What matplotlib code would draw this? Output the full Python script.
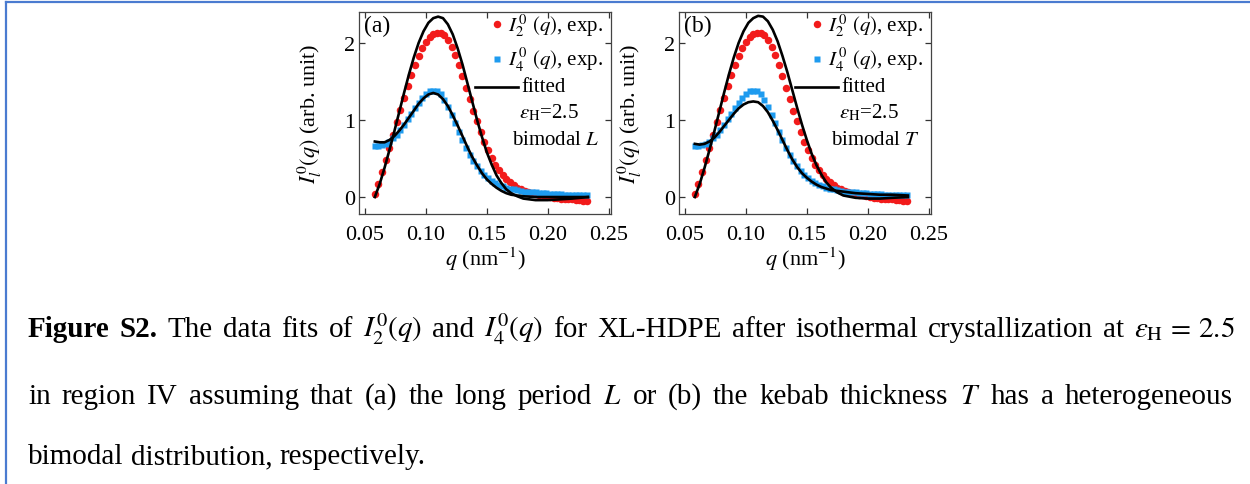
import matplotlib
matplotlib.use("Agg")
import matplotlib.pyplot as plt
from matplotlib.lines import Line2D

plt.rcParams['font.family'] = ['Liberation Serif', 'DejaVu Serif']
plt.rcParams['mathtext.fontset'] = 'stix'

W, H = 1250, 485
DPI = 100

# ---------------- data ----------------
q_exp = [0.058, 0.061, 0.064, 0.067, 0.070, 0.073, 0.076, 0.079, 0.082, 0.085,
         0.088, 0.091, 0.094, 0.097, 0.100, 0.103, 0.106, 0.109, 0.112, 0.115,
         0.118, 0.121, 0.124, 0.127, 0.130, 0.133, 0.136, 0.139, 0.142, 0.145,
         0.148, 0.151, 0.154, 0.157, 0.160, 0.163, 0.166, 0.169, 0.172, 0.175,
         0.178, 0.181, 0.184, 0.187, 0.190, 0.193, 0.196, 0.199, 0.202, 0.205,
         0.208, 0.211, 0.214, 0.217, 0.220, 0.223, 0.226, 0.229, 0.232]
I2_exp = [0.04, 0.17, 0.32, 0.48, 0.64, 0.80, 0.97, 1.13, 1.29, 1.44,
          1.58, 1.71, 1.83, 1.93, 2.01, 2.07, 2.11, 2.13, 2.13, 2.10,
          2.04, 1.95, 1.84, 1.71, 1.57, 1.42, 1.27, 1.12, 0.98, 0.85,
          0.72, 0.61, 0.51, 0.42, 0.35, 0.29, 0.23, 0.19, 0.15, 0.12,
          0.10, 0.08, 0.06, 0.05, 0.04, 0.03, 0.02, 0.01, 0.00, -0.01,
          -0.01, -0.02, -0.02, -0.03, -0.03, -0.04, -0.04, -0.05, -0.05]
I4_exp = [0.66, 0.66, 0.67, 0.69, 0.72, 0.76, 0.81, 0.87, 0.94, 1.01,
          1.08, 1.15, 1.22, 1.28, 1.33, 1.37, 1.38, 1.37, 1.33, 1.26,
          1.17, 1.07, 0.96, 0.85, 0.74, 0.64, 0.55, 0.47, 0.40, 0.34,
          0.29, 0.25, 0.21, 0.18, 0.16, 0.14, 0.12, 0.11, 0.10, 0.09,
          0.08, 0.07, 0.07, 0.06, 0.06, 0.05, 0.05, 0.05, 0.04, 0.04,
          0.04, 0.04, 0.03, 0.03, 0.03, 0.03, 0.03, 0.03, 0.03]

q_fit = [0.058, 0.062, 0.066, 0.070, 0.074, 0.078, 0.082, 0.086, 0.090, 0.094,
         0.098, 0.102, 0.106, 0.110, 0.114, 0.118, 0.122, 0.126, 0.130, 0.134,
         0.138, 0.142, 0.146, 0.150, 0.154, 0.158, 0.162, 0.166, 0.170, 0.175,
         0.180, 0.190, 0.200, 0.210, 0.220, 0.233]
I2_fit_L = [0.00, 0.17, 0.38, 0.61, 0.85, 1.10, 1.35, 1.59, 1.81, 2.00,
            2.15, 2.26, 2.32, 2.34, 2.32, 2.24, 2.11, 1.93, 1.72, 1.48,
            1.24, 1.00, 0.78, 0.58, 0.42, 0.28, 0.18, 0.10, 0.05, 0.01,
            -0.02, -0.04, -0.04, -0.03, -0.02, 0.00]
I4_fit_L = [0.72, 0.71, 0.71, 0.74, 0.79, 0.86, 0.94, 1.03, 1.12, 1.21,
            1.28, 1.33, 1.35, 1.33, 1.27, 1.18, 1.06, 0.93, 0.79, 0.65,
            0.52, 0.41, 0.31, 0.23, 0.17, 0.12, 0.08, 0.05, 0.03, 0.02,
            0.01, 0.00, 0.00, 0.00, 0.00, 0.00]
I2_fit_T = [0.00, 0.17, 0.38, 0.61, 0.85, 1.10, 1.35, 1.59, 1.81, 2.00,
            2.15, 2.26, 2.32, 2.35, 2.34, 2.28, 2.17, 2.02, 1.83, 1.62,
            1.39, 1.16, 0.94, 0.74, 0.56, 0.41, 0.29, 0.19, 0.12, 0.06,
            0.02, -0.01, -0.02, -0.02, -0.01, 0.00]
I4_fit_T = [0.69, 0.68, 0.69, 0.72, 0.77, 0.84, 0.92, 1.00, 1.08, 1.15,
            1.20, 1.23, 1.24, 1.23, 1.18, 1.10, 0.99, 0.87, 0.74, 0.61,
            0.49, 0.39, 0.31, 0.25, 0.20, 0.16, 0.13, 0.11, 0.09, 0.08,
            0.07, 0.05, 0.04, 0.03, 0.03, 0.02]

x_ticks = [0.05, 0.10, 0.15, 0.20, 0.25]
x_ticklabels = ["0.05", "0.10", "0.15", "0.20", "0.25"]
y_ticks = [0, 1, 2]
panel_tags = ["(a)", "(b)"]
panel_models = ["L", "T"]
fits_I2 = [I2_fit_L, I2_fit_T]
fits_I4 = [I4_fit_L, I4_fit_T]

RED = '#F21B1B'
BLUE = '#1E9BEF'

fig = plt.figure(figsize=(W / DPI, H / DPI), dpi=DPI)

def fx(px):
    return px / W

def fy(py):
    return 1 - py / H

ax_lefts = [359, 679]
ax_top, ax_bot, ax_w = 13, 215, 252

for i in range(2):
    ax = fig.add_axes([fx(ax_lefts[i]), fy(ax_bot), ax_w / W, (ax_bot - ax_top) / H])
    ax.plot(q_exp, I2_exp, 'o', color=RED, ms=5.4, mec='none', zorder=2)
    ax.plot(q_exp, I4_exp, 's', color=BLUE, ms=4.8, mec='none', zorder=2)
    ax.plot(q_fit, fits_I2[i], '-', color='black', lw=1.9, zorder=3)
    ax.plot(q_fit, fits_I4[i], '-', color='black', lw=1.9, zorder=3)
    ax.set_xlim(0.045, 0.252)
    ax.set_ylim(-0.22, 2.40)
    ax.set_xticks(x_ticks)
    ax.set_xticklabels(x_ticklabels)
    ax.set_yticks(y_ticks)
    ax.tick_params(direction='in', top=True, right=True, length=4, width=0.9,
                   labelsize=16, color='#333333')
    ax.tick_params(axis='x', pad=8)
    ax.tick_params(axis='y', pad=3)
    for s in ax.spines.values():
        s.set_color('#444444')
        s.set_linewidth(0.9)
    ax.set_xlabel(r'$q$ (nm$^{-1}$)', fontsize=16, labelpad=0)
    ax.set_ylabel(r'$I_l^0(q)$ (arb. unit)', fontsize=16, labelpad=14)
    ax.text(0.02, 0.935, panel_tags[i], transform=ax.transAxes, fontsize=17,
            va='center', ha='left')
    # legend-like annotations
    ax.plot([0.548], [0.94], 'o', color=RED, ms=5.4, mec='none', transform=ax.transAxes, clip_on=False)
    ax.text(0.59, 0.94, r'$I_2^{\,0}\ (q)$, exp.', transform=ax.transAxes, fontsize=15,
            va='center', ha='left')
    ax.plot([0.548], [0.767], 's', color=BLUE, ms=4.8, mec='none', transform=ax.transAxes, clip_on=False)
    ax.text(0.59, 0.767, r'$I_4^{\,0}\ (q)$, exp.', transform=ax.transAxes, fontsize=15,
            va='center', ha='left')
    ax.plot([0.46, 0.632], [0.629, 0.629], '-', color='black', lw=1.9, transform=ax.transAxes)
    ax.text(0.645, 0.629, 'fitted', transform=ax.transAxes, fontsize=15, va='center', ha='left')
    ax.text(0.755, 0.505, r'$\varepsilon_{\rm H}$=2.5', transform=ax.transAxes, fontsize=15,
            va='center', ha='center')
    ax.text(0.78, 0.371, r'bimodal $%s$' % panel_models[i], transform=ax.transAxes,
            fontsize=15, va='center', ha='center')

# border lines
fig.add_artist(Line2D([fx(6), 1], [fy(2.5), fy(2.5)], color='#4A7BD0', lw=1.6))
fig.add_artist(Line2D([fx(6), fx(6)], [fy(2.5), 0], color='#4A7BD0', lw=1.6))

# caption with justified lines
CAP_FS = 21
renderer = fig.canvas.get_renderer()

def place_line(tokens, y_base, x0, x1, justify):
    items = []
    for s, bold in tokens:
        t = fig.text(0, fy(y_base), s, fontsize=CAP_FS, weight='bold' if bold else 'normal',
                     va='baseline', ha='left')
        items.append(t)
    widths = [t.get_window_extent(renderer).width for t in items]
    if justify:
        gap = (x1 - x0 - sum(widths)) / (len(items) - 1)
    else:
        sp = fig.text(0, 0, 'a a', fontsize=CAP_FS)
        sp2 = fig.text(0, 0, 'aa', fontsize=CAP_FS)
        gap = sp.get_window_extent(renderer).width - sp2.get_window_extent(renderer).width
        sp.remove(); sp2.remove()
    x = x0
    for t, w in zip(items, widths):
        t.set_x(fx(x))
        x += w + gap

line1 = [("Figure", True), ("S2.", True), ("The", False), ("data", False), ("fits", False),
         ("of", False), (r"$I_2^0(q)$", False), ("and", False), (r"$I_4^0(q)$", False),
         ("for", False), ("XL-HDPE", False), ("after", False), ("isothermal", False),
         ("crystallization", False), ("at", False), (r"$\varepsilon_{\mathrm{H}}\,=\,2.5$", False)]
line2 = [(w, False) for w in "in region IV assuming that (a) the long period".split()] + \
        [(r"$L$", False)] + [(w, False) for w in "or (b) the kebab thickness".split()] + \
        [(r"$T$", False)] + [(w, False) for w in "has a heterogeneous".split()]
line3 = [(w, False) for w in "bimodal distribution, respectively.".split()]

place_line(line1, 337, 28, 1235, True)
place_line(line2, 404, 28, 1233, True)
place_line(line3, 464, 28, 1233, False)

fig.savefig('out.png', dpi=DPI)
